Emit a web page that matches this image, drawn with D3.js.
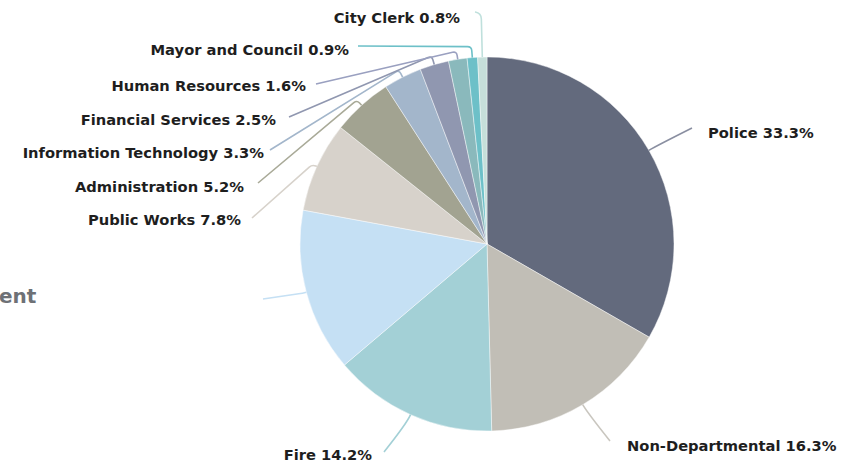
<!DOCTYPE html>
<html>
<head>
<meta charset="utf-8">
<script src="https://cdn.jsdelivr.net/npm/d3@7"></script>
<style>
  html, body { margin: 0; padding: 0; background: #ffffff; }
  svg { display: block; }
  .lbl { font-family: "DejaVu Sans", sans-serif; font-weight: bold; fill: #1e1e1e; }
</style>
</head>
<body>
<svg id="chart" width="856" height="466"></svg>
<script>
// Budget share by department (percent of total)
const departments = [
  "Police", "Non-Departmental", "Fire", "", "Public Works", "Administration",
  "Information Technology", "Financial Services", "Human Resources",
  "Mayor and Council", "City Clerk"
];
const shares = [33.3, 16.3, 14.2, 14.1, 7.8, 5.2, 3.3, 2.5, 1.6, 0.9, 0.8];

const palette = [
  "#636a7d", "#c1beb6", "#a3d0d6", "#c5e0f4", "#d7d2cb", "#a2a391",
  "#a3b6cb", "#9097b0", "#8ab9bc", "#6dc0c8", "#c6dfda"
];
const leaderColors = [
  "#8a8fa1", "#c9c6bf", "#a3d0d6", "#c5e0f4", "#d7d2cb", "#a9aa98",
  "#a3b6cb", "#9097b0", "#9aa0c0", "#6dc0c8", "#bfe0dc"
];

// Label placement: text anchor point and the leader line's end point
const labelSpots = [
  { x: 708, y: 138, anchor: "start", end: [692, 128], ext: 10, round: 99 },
  { x: 627, y: 451, anchor: "start", end: [610, 441], ext: 10, round: 99 },
  { x: 372, y: 460, anchor: "end",   end: [384, 452], ext: 10, round: 99 },
  { x: 0,   y: 0,   anchor: "end",   end: [263, 299], ext: 4,  round: 2 },
  { x: 241, y: 225, anchor: "end",   end: [252, 218], ext: 5,  round: 4 },
  { x: 244, y: 192, anchor: "end",   end: [258, 183], ext: 7,  round: 4 },
  { x: 264, y: 158, anchor: "end",   end: [270, 150], ext: 8,  round: 4 },
  { x: 276, y: 125, anchor: "end",   end: [289, 117], ext: 9,  round: 4 },
  { x: 306, y: 91,  anchor: "end",   end: [316, 84],  ext: 8,  round: 4 },
  { x: 349, y: 55,  anchor: "end",   end: [358, 46],  ext: 11, round: 4 },
  { x: 460, y: 23,  anchor: "end",   end: [475, 12],  ext: 44, round: 6 }
];

const svg = d3.select("#chart");
const cx = 487, cy = 244, R = 187;

const color = d3.scaleOrdinal().domain(departments.map((d, i) => i)).range(palette);

const pie = d3.pie().sort(null).value(d => d.v);
const arcs = pie(shares.map((v, i) => ({ v, i })));
const arc = d3.arc().innerRadius(0).outerRadius(R);

const g = svg.append("g").attr("transform", `translate(${cx},${cy})`);

g.selectAll("path.slice")
  .data(arcs)
  .join("path")
  .attr("class", "slice")
  .attr("d", arc)
  .attr("fill", d => color(d.data.i))
  .attr("stroke", "#ffffff")
  .attr("stroke-opacity", 0.55)
  .attr("stroke-width", 0.8);

// Leader lines: short radial run from the rim, rounded bend, then to the label
function polar(a, r) {
  return [cx + r * Math.sin(a), cy - r * Math.cos(a)];
}
function leader(d) {
  const s = labelSpots[d.data.i];
  const a = (d.startAngle + d.endAngle) / 2;
  const A = polar(a, R);
  const B = polar(a, R + s.ext);
  const C = s.end;
  const lenAB = Math.hypot(B[0] - A[0], B[1] - A[1]);
  const lenBC = Math.hypot(C[0] - B[0], C[1] - B[1]);
  const r1 = Math.min(s.round, lenAB), r2 = Math.min(s.round, lenBC);
  const P1 = [B[0] - (B[0] - A[0]) / lenAB * r1, B[1] - (B[1] - A[1]) / lenAB * r1];
  const P2 = [B[0] + (C[0] - B[0]) / lenBC * r2, B[1] + (C[1] - B[1]) / lenBC * r2];
  const p = d3.path();
  p.moveTo(A[0], A[1]);
  p.lineTo(P1[0], P1[1]);
  p.quadraticCurveTo(B[0], B[1], P2[0], P2[1]);
  p.lineTo(C[0], C[1]);
  return p.toString();
}

svg.selectAll("path.leader")
  .data(arcs)
  .join("path")
  .attr("class", "leader")
  .attr("d", leader)
  .attr("fill", "none")
  .attr("stroke", d => leaderColors[d.data.i])
  .attr("stroke-width", 1.6);

svg.selectAll("text.lbl")
  .data(arcs.filter(d => departments[d.data.i] !== ""))
  .join("text")
  .attr("class", "lbl")
  .attr("x", d => labelSpots[d.data.i].x)
  .attr("y", d => labelSpots[d.data.i].y)
  .attr("text-anchor", d => labelSpots[d.data.i].anchor)
  .attr("font-size", 14.7)
  .text(d => `${departments[d.data.i]} ${d3.format(".1f")(d.data.v)}%`);

// Partially visible heading at the left edge
svg.append("text")
  .attr("x", -1)
  .attr("y", 303)
  .attr("font-family", "DejaVu Sans, sans-serif")
  .attr("font-weight", "bold")
  .attr("font-size", 20)
  .attr("fill", "#6e7176")
  .text("ent");
</script>
</body>
</html>
